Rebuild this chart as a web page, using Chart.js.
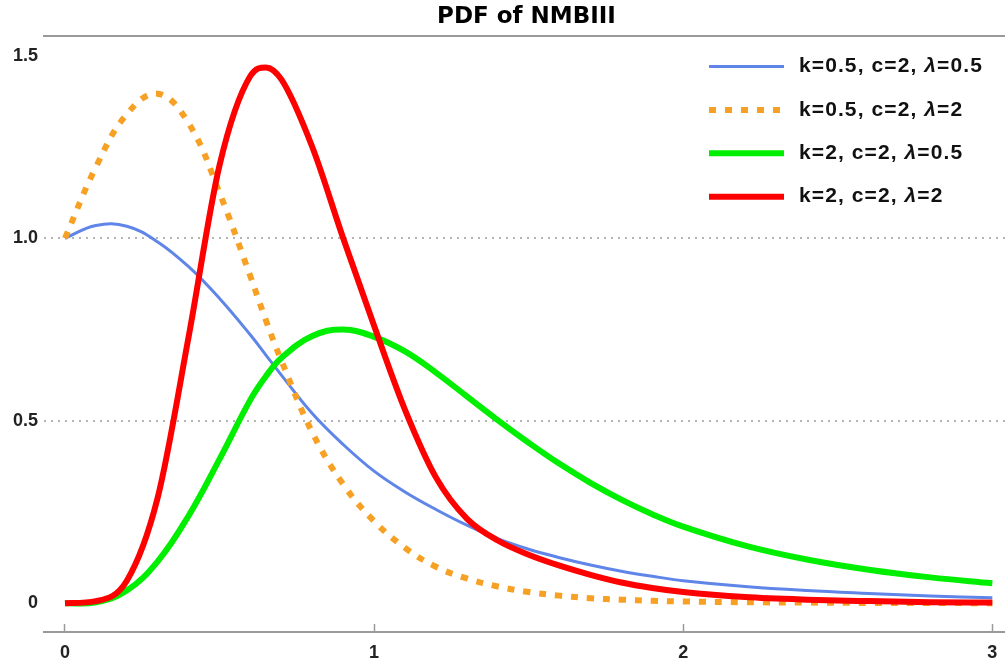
<!DOCTYPE html>
<html>
<head>
<meta charset="utf-8">
<title>PDF of NMBIII</title>
<script src="https://cdn.jsdelivr.net/npm/chart.js@4.4.1/dist/chart.umd.min.js"></script>
<style>
  html, body { margin: 0; padding: 0; background: #fff; }
  #wrap { width: 1005px; height: 664px; }
</style>
</head>
<body>
<div id="wrap"><canvas id="pdf" width="1005" height="664"></canvas></div>
<script>
// ── Datos ───────────────────────────────────────────────────────
var xVals = [0, 0.1, 0.2, 0.3, 0.4, 0.5, 0.6, 0.65, 0.7, 0.8, 0.9, 1.0, 1.1, 1.2, 1.3, 1.4,
             1.5, 1.6, 1.7, 1.8, 1.9, 2.0, 2.2, 2.4, 2.6, 2.8, 3.0];

// k=0.5, c=2, λ=0.5
var pdfA = [1.0, 1.035, 1.033, 0.99, 0.922, 0.835, 0.735, 0.68, 0.625, 0.52, 0.435, 0.362, 0.305, 0.257, 0.214, 0.177,
            0.148, 0.125, 0.105, 0.088, 0.074, 0.062, 0.046, 0.035, 0.027, 0.02, 0.015];
// k=0.5, c=2, λ=2
var pdfB = [1.0, 1.195, 1.34, 1.396, 1.315, 1.124, 0.895, 0.775, 0.665, 0.468, 0.326, 0.225, 0.152, 0.1, 0.068, 0.046,
            0.031, 0.021, 0.014, 0.01, 0.007, 0.005, 0.003, 0.002, 0.001, 0.001, 0.0];
// k=2, c=2, λ=0.5
var pdfC = [0.0, 0.003, 0.035, 0.115, 0.24, 0.395, 0.558, 0.622, 0.672, 0.732, 0.75, 0.73, 0.69, 0.632, 0.567, 0.502,
            0.44, 0.382, 0.33, 0.284, 0.244, 0.21, 0.158, 0.12, 0.092, 0.071, 0.055];
// k=2, c=2, λ=2
var pdfD = [0.0, 0.006, 0.062, 0.29, 0.73, 1.2, 1.445, 1.468, 1.435, 1.25, 1.0, 0.76, 0.53, 0.345, 0.232, 0.172,
            0.133, 0.103, 0.078, 0.057, 0.042, 0.031, 0.017, 0.01, 0.006, 0.003, 0.002];

var titulo = 'PDF of NMBIII';
var etiquetas = ['k=0.5, c=2, λ=0.5', 'k=0.5, c=2, λ=2', 'k=2, c=2, λ=0.5', 'k=2, c=2, λ=2'];
var xTicks = [0, 1, 2, 3];
var yTicks = [0, 0.5, 1, 1.5];

function puntos(ys) {
    return xVals.map(function(x, i) { return { x: x, y: ys[i] }; });
}

// ── Título y leyenda dibujados a mano ───────────────────────────
var leyendaPlugin = {
    id: 'leyenda',
    afterDraw: function(chart) {
        var ctx = chart.ctx;
        var area = chart.chartArea;

        // título centrado sobre el área del gráfico
        ctx.save();
        ctx.fillStyle = '#000';
        ctx.font = 'bold 23px "DejaVu Sans", sans-serif';
        ctx.textAlign = 'center';
        ctx.textBaseline = 'middle';
        ctx.fillText(titulo, (area.left + area.right) / 2 + 2, 17);
        ctx.restore();

        chart.data.datasets.forEach(function(ds, i) {
            var y = 66.5 + i * 43.4;
            ctx.save();
            ctx.strokeStyle = ds.borderColor;
            ctx.lineWidth = ds.borderWidth;
            ctx.lineCap = 'butt';
            ctx.setLineDash(ds.borderDash || []);
            ctx.beginPath();
            ctx.moveTo(709, y);
            ctx.lineTo(784, y);
            ctx.stroke();
            ctx.setLineDash([]);

            // el símbolo λ va en cursiva
            var partes = ds.label.split('λ');
            ctx.fillStyle = '#111';
            ctx.textBaseline = 'middle';
            ctx.letterSpacing = '1.1px';
            var x = 799;
            var normal = 'bold 21px "Liberation Sans", Arial, sans-serif';
            var italica = 'italic bold 21px "Liberation Sans", Arial, sans-serif';
            ctx.font = normal;
            ctx.fillText(partes[0], x, y);
            x += ctx.measureText(partes[0]).width;
            ctx.font = italica;
            ctx.fillText('λ', x, y);
            x += ctx.measureText('λ').width;
            ctx.font = normal;
            ctx.fillText(partes[1], x, y);
            ctx.restore();
        });
    }
};

var fuenteTicks = { family: '"Liberation Sans", Arial, sans-serif', size: 18, weight: 'bold' };

function sinRelleno(s) {
    s.paddingLeft = 0; s.paddingRight = 0; s.paddingTop = 0; s.paddingBottom = 0;
}

new Chart(document.getElementById('pdf'), {
    type: 'line',
    data: {
        datasets: [
            { label: etiquetas[0], data: puntos(pdfA), borderColor: '#5f85e8', borderWidth: 3, order: 4 },
            { label: etiquetas[1], data: puntos(pdfB), borderColor: '#f7a124', borderWidth: 6,
              borderDash: [7, 9], borderCapStyle: 'butt', order: 3 },
            { label: etiquetas[2], data: puntos(pdfC), borderColor: '#00ee00', borderWidth: 6, order: 2 },
            { label: etiquetas[3], data: puntos(pdfD), borderColor: '#ff0000', borderWidth: 6, order: 1,
              cubicInterpolationMode: 'monotone' }
        ]
    },
    options: {
        responsive: false,
        animation: false,
        devicePixelRatio: 1,
        layout: { padding: { top: 36, left: 0, right: 0, bottom: 0 } },
        elements: {
            point: { radius: 0 },
            line: { tension: 0.4, fill: false }
        },
        plugins: {
            legend: { display: false },
            tooltip: { enabled: false },
            title: { display: false }
        },
        scales: {
            x: {
                type: 'linear',
                position: 'bottom',
                min: -0.0679,
                max: 3.041,
                afterBuildTicks: function(s) { s.ticks = xTicks.map(function(v) { return { value: v }; }); },
                afterFit: function(s) { s.height = 32; sinRelleno(s); },
                border: { display: true, color: '#9a9a9a', width: 2 },
                grid: { drawOnChartArea: false, drawTicks: true, tickLength: -8, tickColor: '#9a9a9a', tickWidth: 1.5 },
                ticks: { color: '#222', font: fuenteTicks, padding: 18, maxRotation: 0,
                         callback: function(v) { return String(v); } }
            },
            xTop: {
                type: 'linear',
                position: 'top',
                min: -0.0679,
                max: 3.041,
                afterFit: function(s) { s.height = 0; sinRelleno(s); },
                border: { display: true, color: '#9a9a9a', width: 2 },
                grid: { display: false, drawTicks: false },
                ticks: { display: false }
            },
            y: {
                type: 'linear',
                min: -0.0786,
                max: 1.554,
                afterBuildTicks: function(s) { s.ticks = yTicks.map(function(v) { return { value: v }; }); },
                afterFit: function(s) { s.width = 44; sinRelleno(s); },
                border: { display: false, dash: [2, 5] },
                grid: {
                    drawTicks: false,
                    lineWidth: 2,
                    color: function(c) {
                        var v = c.tick && c.tick.value;
                        return (v === 0.5 || v === 1) ? '#b4b4b4' : 'rgba(0,0,0,0)';
                    }
                },
                ticks: { color: '#222', font: fuenteTicks, padding: 6,
                         callback: function(v) { return v === 0 ? '0' : v.toFixed(1); } }
            }
        }
    },
    plugins: [leyendaPlugin]
});
</script>
</body>
</html>
